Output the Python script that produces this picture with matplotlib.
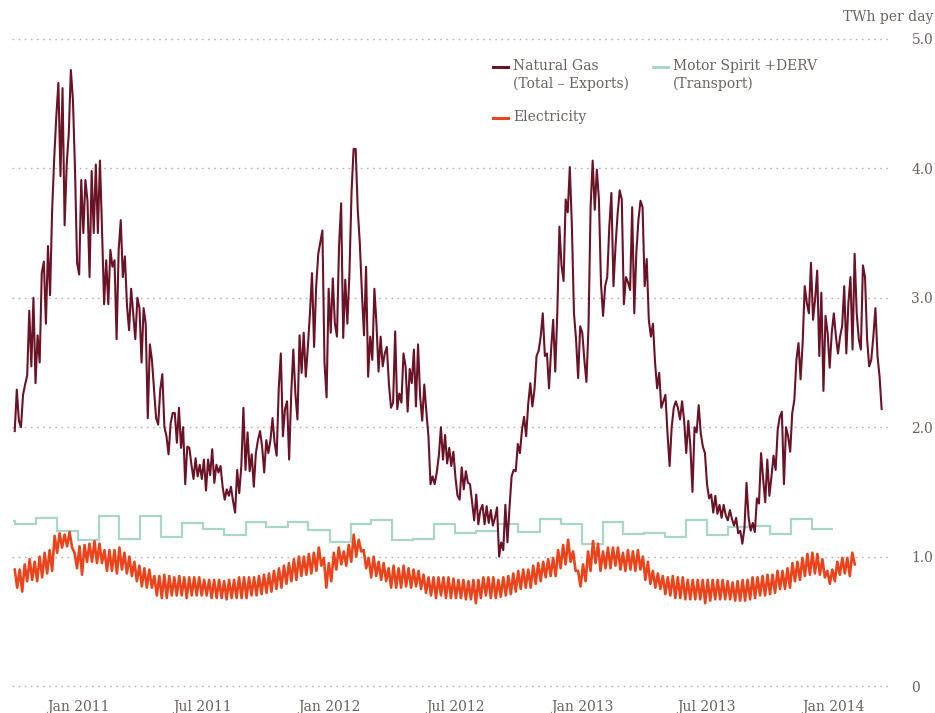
import numpy as np
import pandas as pd
import matplotlib
matplotlib.use("Agg")
import matplotlib.pyplot as plt
import matplotlib.dates as mdates
from matplotlib.lines import Line2D

# --- data (TWh per day) ---

# natural gas, roughly every 3 days from 1 Oct 2010 to 12 Mar 2014
gas = [
    1.97, 2.29, 2.05, 2.00, 2.25, 2.33, 2.40, 2.90, 2.47, 3.00,
    2.34, 2.71, 2.50, 3.19, 3.28, 2.80, 3.40, 3.02, 3.68, 4.08,
    4.40, 4.66, 3.94, 4.62, 3.56, 4.03, 4.27, 4.76, 4.53, 3.99,
    3.27, 3.18, 3.91, 3.50, 3.91, 3.75, 3.16, 3.98, 3.50, 4.03,
    3.50, 4.06, 3.52, 2.95, 3.29, 2.95, 3.37, 3.24, 3.29, 2.68,
    3.37, 3.60, 3.16, 3.32, 2.94, 2.75, 3.07, 2.88, 2.68, 3.00,
    2.92, 2.50, 2.92, 2.80, 2.07, 2.64, 2.52, 2.30, 2.07, 2.02,
    2.29, 2.41, 2.00, 1.93, 1.79, 2.03, 2.11, 2.11, 1.88, 2.15,
    1.84, 2.00, 1.56, 1.85, 1.84, 1.71, 1.60, 1.76, 1.62, 1.71,
    1.60, 1.75, 1.51, 1.75, 1.63, 1.83, 1.57, 1.71, 1.65, 1.70,
    1.54, 1.44, 1.52, 1.47, 1.54, 1.43, 1.34, 1.67, 1.49, 1.70,
    2.15, 1.67, 1.96, 1.66, 1.79, 1.54, 1.80, 1.90, 1.97, 1.85,
    1.65, 1.90, 1.80, 1.90, 2.07, 1.88, 1.78, 2.30, 2.57, 1.93,
    2.14, 2.20, 1.75, 2.26, 2.60, 2.26, 2.06, 2.71, 2.42, 2.73,
    2.39, 2.62,
    2.88, 3.19, 2.62, 3.09, 3.34, 3.43, 3.52, 2.50, 2.23, 3.07,
    2.73, 3.15, 2.80, 2.70, 3.40, 3.73, 2.69, 3.14, 2.80, 3.19,
    3.81, 4.15, 4.15, 3.68, 3.42, 3.04, 2.71, 3.24, 2.39, 2.70,
    2.52, 3.07, 2.80, 2.43, 2.70, 2.47, 2.57, 2.62, 2.33, 2.15,
    2.19, 2.74, 2.14, 2.26, 2.19, 2.57, 2.47, 2.12, 2.45, 2.34,
    2.60, 2.16, 2.64, 2.24, 2.05, 2.33, 2.12, 1.93, 1.56, 1.62,
    1.56, 1.65, 1.78, 2.00, 1.75, 1.94, 1.72, 1.84, 1.70, 1.81,
    1.61, 1.47,
    1.44, 1.69, 1.52, 1.66, 1.57, 1.56, 1.42, 1.28, 1.48, 1.25,
    1.36, 1.40, 1.25, 1.39, 1.26, 1.36, 1.24, 1.30, 1.38, 1.00,
    1.11, 1.05, 1.40, 1.11, 1.38, 1.62, 1.67, 1.66, 1.87, 1.80,
    1.98, 2.08, 1.93, 2.18, 2.34, 2.16, 2.29, 2.55, 2.59, 2.70,
    2.88, 2.55, 2.57, 2.30, 2.60, 2.83, 2.43, 2.89, 3.55, 3.25,
    3.13, 3.76, 3.66, 4.01, 3.55, 2.88, 2.68, 2.38, 2.78, 2.73,
    2.52, 2.35, 2.78, 3.70, 4.06, 3.68, 3.99, 3.76, 3.11, 2.86,
    3.09, 3.16,
    3.55, 3.81, 3.09, 3.40, 3.65, 3.83, 3.76, 2.95, 3.16, 3.12,
    3.06, 3.70, 2.88, 3.35, 3.60, 3.75, 3.70, 3.09, 3.30, 2.83,
    2.70, 2.80, 2.50, 2.30, 2.42, 2.15, 2.20, 2.25, 1.95, 1.70,
    2.00, 2.15, 2.20, 2.15, 2.06, 2.20, 2.05, 1.80, 2.05, 1.85,
    1.50, 2.00, 1.96, 2.17, 1.95, 1.85, 1.80, 1.56, 1.45, 1.48,
    1.34, 1.47, 1.33, 1.40, 1.30, 1.40, 1.32, 1.28, 1.36, 1.29,
    1.24, 1.30, 1.18, 1.20, 1.10, 1.22, 1.57, 1.30, 1.20, 1.26,
    1.19, 1.45,
    1.41, 1.80, 1.60, 1.42, 1.75, 1.47, 1.62, 1.78, 1.67, 1.98,
    2.08, 2.12, 1.56, 2.00, 1.93, 1.81, 2.11, 2.21, 2.52, 2.65,
    2.37, 2.65, 3.09, 2.96, 2.88, 3.27, 2.83, 2.99, 3.21, 2.55,
    3.04, 2.28, 2.86, 2.73, 2.46, 2.73, 2.88, 2.70, 2.57, 2.70,
    2.78, 3.09, 2.57, 2.96, 3.16, 2.60, 3.34, 2.88, 2.68, 2.60,
    3.25, 3.16, 2.68, 2.47, 2.52, 2.70, 2.92, 2.55, 2.39, 2.14,
]
gas_start, gas_end = "2010-10-01", "2014-03-12"

# electricity, weekly weekday highs and weekend lows, Oct 2010 - Jan 2014
elec_high = [
    0.90, 0.90, 0.94, 0.98, 0.96, 1.00, 1.03, 1.05, 1.16, 1.18,
    1.17, 1.19, 1.03, 1.08, 1.09, 1.10, 1.12, 1.10, 1.05, 1.05,
    1.05, 1.07, 1.03, 1.00, 0.96, 0.93, 0.91, 0.90, 0.85, 0.85,
    0.86, 0.85, 0.84, 0.85, 0.84, 0.84, 0.84, 0.84, 0.82, 0.82,
    0.82, 0.82, 0.81, 0.82, 0.82, 0.84, 0.84, 0.84, 0.84, 0.85,
    0.86, 0.87, 0.89, 0.91, 0.93, 0.95, 0.98, 1.00, 1.00, 1.02,
    1.03, 1.07, 0.99, 0.95, 1.03, 1.07, 1.04, 1.09, 1.17, 1.13,
    1.05, 0.99, 1.00, 0.96, 0.95, 0.91, 0.93, 0.91, 0.93, 0.91,
    0.90, 0.89, 0.86, 0.84, 0.84, 0.84, 0.84, 0.84, 0.83, 0.82,
    0.82, 0.81, 0.82, 0.82, 0.84, 0.84, 0.84, 0.82, 0.84, 0.85,
    0.87, 0.89, 0.90, 0.90, 0.93, 0.95, 0.96, 0.98, 0.99, 1.05,
    1.09, 1.13, 1.04, 0.89, 0.94, 1.04, 1.12, 1.10, 1.04, 1.07,
    1.07, 1.07, 1.03, 1.05, 1.04, 1.05, 1.00, 0.96, 0.89, 0.87,
    0.85, 0.84, 0.85, 0.84, 0.84, 0.82, 0.82, 0.82, 0.82, 0.82,
    0.82, 0.82, 0.82, 0.81, 0.80, 0.81, 0.82, 0.82, 0.84, 0.84,
    0.85, 0.86, 0.86, 0.89, 0.89, 0.91, 0.95, 0.96, 0.99, 1.02,
    1.03, 1.02, 0.98, 0.89, 0.90, 0.96, 0.99, 0.99, 1.03,
]
elec_low = [
    0.76, 0.73, 0.81, 0.82, 0.81, 0.84, 0.87, 0.89, 1.03, 1.07,
    1.08, 1.07, 0.91, 0.86, 0.96, 0.96, 0.95, 0.95, 0.89, 0.89,
    0.87, 0.90, 0.87, 0.85, 0.81, 0.77, 0.76, 0.76, 0.70, 0.68,
    0.68, 0.70, 0.70, 0.70, 0.68, 0.70, 0.70, 0.70, 0.70, 0.68,
    0.68, 0.68, 0.67, 0.68, 0.68, 0.68, 0.68, 0.70, 0.70, 0.71,
    0.72, 0.73, 0.75, 0.76, 0.79, 0.81, 0.82, 0.85, 0.86, 0.87,
    0.89, 0.93, 0.76, 0.81, 0.90, 0.94, 0.93, 0.96, 1.00, 1.04,
    0.91, 0.84, 0.85, 0.82, 0.81, 0.76, 0.76, 0.76, 0.77, 0.76,
    0.77, 0.75, 0.72, 0.70, 0.68, 0.70, 0.68, 0.68, 0.68, 0.68,
    0.67, 0.67, 0.64, 0.68, 0.70, 0.68, 0.68, 0.69, 0.70, 0.71,
    0.73, 0.75, 0.76, 0.76, 0.79, 0.81, 0.84, 0.85, 0.85, 0.91,
    0.94, 0.96, 0.89, 0.77, 0.81, 0.89, 0.95, 0.89, 0.91, 0.91,
    0.93, 0.90, 0.89, 0.90, 0.89, 0.90, 0.82, 0.79, 0.76, 0.75,
    0.71, 0.70, 0.68, 0.68, 0.67, 0.67, 0.67, 0.67, 0.64, 0.66,
    0.67, 0.67, 0.67, 0.67, 0.66, 0.66, 0.66, 0.67, 0.68, 0.70,
    0.70, 0.71, 0.72, 0.75, 0.75, 0.76, 0.81, 0.82, 0.85, 0.86,
    0.87, 0.86, 0.84, 0.79, 0.81, 0.86, 0.87, 0.85, 0.94,
]
elec_start, elec_end = "2010-10-01", "2014-02-01"

# motor spirit + DERV, monthly averages (first entry: end of Sep 2010)
transport_months = ["2010-09-28"] + [d.strftime("%Y-%m-%d") for d in
                                     pd.date_range("2010-10-01", "2014-01-01", freq="MS")]
transport = [
    1.275, 1.25, 1.30, 1.20,
    1.125, 1.31, 1.135, 1.31, 1.155, 1.26, 1.21, 1.17, 1.27, 1.225, 1.27, 1.205,
    1.115, 1.25, 1.28, 1.13, 1.135, 1.25, 1.185, 1.20, 1.25, 1.19, 1.29, 1.25,
    1.10, 1.27, 1.175, 1.185, 1.15, 1.28, 1.165, 1.225, 1.24, 1.175, 1.29, 1.21,
]

yticks = [0, 1, 2, 3, 4, 5]
ytick_labels = ["0", "1.0", "2.0", "3.0", "4.0", "5.0"]
xticks = ["2011-01-01", "2011-07-01", "2012-01-01", "2012-07-01",
          "2013-01-01", "2013-07-01", "2014-01-01"]

GAS = "#6b1326"
ELEC = "#e9441c"
TRANS = "#a9d6c7"
TEXT = "#6b625f"
GRID = "#bdb1ad"
FS = 10

plt.rcParams["font.family"] = ["DejaVu Serif"]

fig = plt.figure(figsize=(9.35, 7.13), dpi=100)
ax = fig.add_axes([0.0128, 0.0342, 0.9412, 0.9148])

# transport steps
edges = mdates.date2num(pd.to_datetime(transport_months))
ax.stairs(transport, edges, baseline=None, color=TRANS, lw=1.6, zorder=2)

# electricity: interleave highs and lows through the weeks
elec_t = pd.date_range(elec_start, elec_end, periods=2 * len(elec_high))
elec_v = np.empty(2 * len(elec_high))
elec_v[0::2] = elec_high
elec_v[1::2] = elec_low
ax.plot(elec_t, elec_v, color=ELEC, lw=1.9, zorder=3)

# gas
gas_t = pd.date_range(gas_start, gas_end, periods=len(gas))
ax.plot(gas_t, gas, color=GAS, lw=1.5, zorder=4)

ax.set_xlim(pd.Timestamp("2010-09-27"), pd.Timestamp("2014-03-27"))
ax.set_ylim(-0.02, 5.02)

for s in ax.spines.values():
    s.set_visible(False)

ax.set_yticks(yticks)
ax.set_yticklabels(ytick_labels)
ax.yaxis.tick_right()
ax.grid(axis="y", linestyle=(0, (1.2, 3.2)), color=GRID, lw=1.0)
ax.set_axisbelow(True)

ax.set_xticks(pd.to_datetime(xticks))
ax.xaxis.set_major_formatter(mdates.DateFormatter("%b %Y"))
ax.tick_params(axis="y", length=0, pad=14, labelsize=FS, labelcolor=TEXT)
ax.tick_params(axis="x", length=0, pad=8, labelsize=FS, labelcolor=TEXT)

fig.text(0.998, 1 - 17 / 713, "TWh per day", ha="right", va="center",
         fontsize=FS, color=TEXT)

# legend drawn by hand
def fx(px):
    return px / 935

def fy(py):
    return 1 - py / 713

legend_items = [
    (493, 66.7, GAS, "Natural Gas\n(Total \u2013 Exports)"),
    (653, 66.7, TRANS, "Motor Spirit +DERV\n(Transport)"),
    (493, 117.7, ELEC, "Electricity"),
]
for x0, y0, col, label in legend_items:
    fig.add_artist(Line2D([fx(x0), fx(x0 + 15)], [fy(y0), fy(y0)],
                          transform=fig.transFigure, color=col, lw=2.2))
    fig.text(fx(x0 + 20), fy(y0 - 8), label, ha="left", va="top",
             fontsize=FS, color=TEXT, linespacing=1.3)

fig.savefig("out.png", dpi=100)
